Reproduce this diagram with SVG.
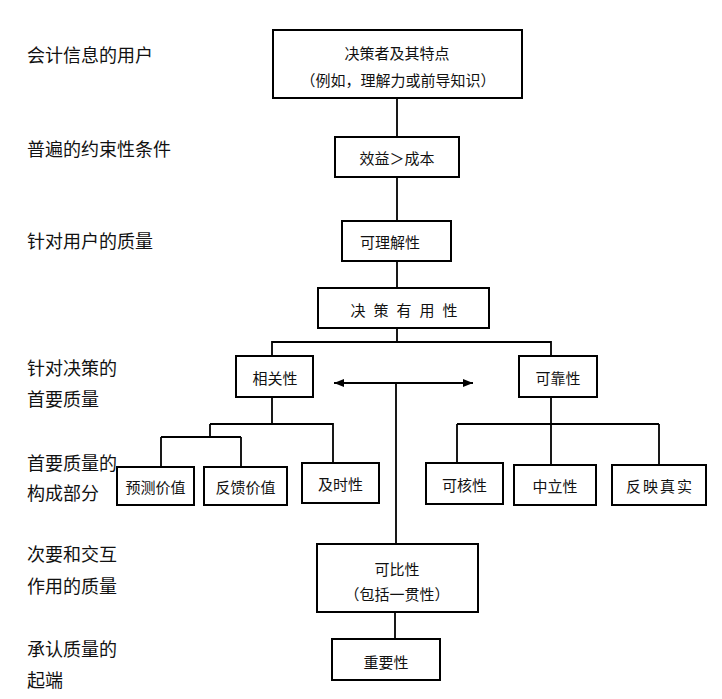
<svg xmlns="http://www.w3.org/2000/svg" width="722" height="699" viewBox="0 0 722 699">
<style>
.box{fill:#fff;stroke:#000;stroke-width:2}
.t{font-family:"Noto Sans CJK SC","Noto Sans",sans-serif;font-size:15px;fill:#111;text-anchor:middle;dominant-baseline:central}
.lab{font-family:"Noto Sans CJK SC","Noto Sans",sans-serif;font-size:18px;fill:#111;dominant-baseline:central}
.ln{fill:none;stroke:#000;stroke-width:1.8}
</style>
<defs>
<marker id="ah" markerWidth="10" markerHeight="8" refX="10" refY="4" orient="auto-start-reverse" markerUnits="userSpaceOnUse">
<path d="M0,0 L10,4 L0,8 Z" fill="#000"/>
</marker>
</defs>
<rect width="722" height="699" fill="#fff"/>
<g id="labels">
<text class="lab" x="27" y="54">会计信息的用户</text>
<text class="lab" x="27" y="148">普遍的约束性条件</text>
<text class="lab" x="27" y="240">针对用户的质量</text>
<text class="lab" x="27" y="367">针对决策的</text>
<text class="lab" x="27" y="398">首要质量</text>
<text class="lab" x="27" y="462">首要质量的</text>
<text class="lab" x="27" y="492">构成部分</text>
<text class="lab" x="27" y="553">次要和交互</text>
<text class="lab" x="27" y="585">作用的质量</text>
<text class="lab" x="27" y="648">承认质量的</text>
<text class="lab" x="27" y="679">起端</text>
</g>
<g id="connectors">
<path class="ln" d="M397,98 V137 M397,177 V221 M397,261 V288 M397,328 V342"/>
<path class="ln" d="M272,356 V342 H551 V356"/>
<path class="ln" d="M272,397 V424 M210,424 H333 V463 M210,424 V437 M161,437 H241 M161,437 V467 M241,437 V467"/>
<path class="ln" d="M551,397 V424 M457,424 H659 M457,424 V463 M551,424 V465 M659,424 V465"/>
<line class="ln" x1="334" y1="383" x2="473" y2="383" marker-start="url(#ah)" marker-end="url(#ah)"/>
<path class="ln" d="M396,383 V544 M395,612 V639"/>
</g>
<g id="n-decision-maker">
<rect class="box" x="273" y="30" width="249" height="68"/>
<text class="t" x="397" y="52">决策者及其特点</text>
<text class="t" x="398" y="79">（例如，理解力或前导知识）</text>
</g>
<g id="n-benefit-cost">
<rect class="box" x="335" y="137" width="124" height="40"/>
<text class="t" x="397" y="157">效益＞成本</text>
</g>
<g id="n-understandability">
<rect class="box" x="342" y="221" width="109" height="40"/>
<text class="t" x="390" y="241">可理解性</text>
</g>
<g id="n-usefulness">
<rect class="box" x="318" y="288" width="171" height="40"/>
<text class="t" x="408" y="309" style="letter-spacing:8px">决策有用性</text>
</g>
<g id="n-relevance">
<rect class="box" x="236" y="356" width="77" height="41"/>
<text class="t" x="275" y="377">相关性</text>
</g>
<g id="n-reliability">
<rect class="box" x="519" y="356" width="78" height="41"/>
<text class="t" x="558" y="377">可靠性</text>
</g>
<g id="n-predictive">
<rect class="box" x="117" y="467" width="77" height="38"/>
<text class="t" x="155.5" y="486">预测价值</text>
</g>
<g id="n-feedback">
<rect class="box" x="204" y="467" width="83" height="38"/>
<text class="t" x="245.5" y="486">反馈价值</text>
</g>
<g id="n-timeliness">
<rect class="box" x="302" y="463" width="77" height="40"/>
<text class="t" x="340.5" y="483">及时性</text>
</g>
<g id="n-verifiability">
<rect class="box" x="426" y="463" width="77" height="41"/>
<text class="t" x="464.5" y="484">可核性</text>
</g>
<g id="n-neutrality">
<rect class="box" x="514" y="465" width="82" height="40"/>
<text class="t" x="555" y="485">中立性</text>
</g>
<g id="n-faithfulness">
<rect class="box" x="612" y="465" width="94" height="40"/>
<text class="t" x="660" y="485" style="letter-spacing:2px">反映真实</text>
</g>
<g id="n-comparability">
<rect class="box" x="317" y="544" width="161" height="68"/>
<text class="t" x="397" y="568">可比性</text>
<text class="t" x="397" y="593">（包括一贯性）</text>
</g>
<g id="n-materiality">
<rect class="box" x="332" y="639" width="108" height="41"/>
<text class="t" x="386" y="661">重要性</text>
</g>
</svg>
